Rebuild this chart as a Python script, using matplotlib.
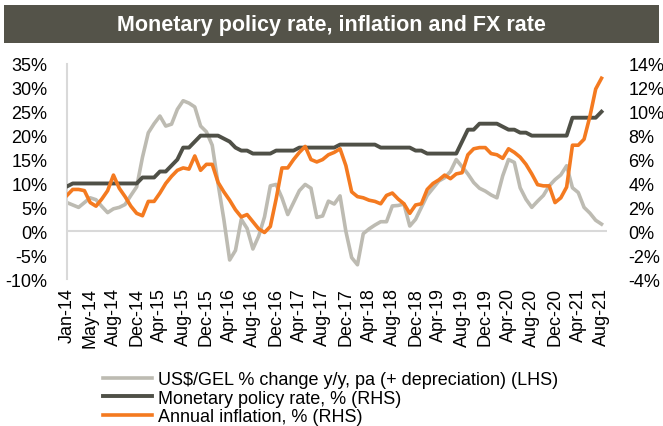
import numpy as np
import matplotlib
matplotlib.use("Agg")
import matplotlib.pyplot as plt
from matplotlib.ticker import FuncFormatter

plt.rcParams.update({
    "font.family": ["Liberation Sans", "DejaVu Sans"],
    "font.size": 13,
})

# monthly series, Jan-14 .. Aug-21
fx_change = [
    6.0, 5.5, 5.0, 6.0, 7.0, 6.6, 5.2, 3.9, 4.7, 5.0,
    5.6, 7.5, 9.3, 15.5, 20.6, 22.5, 24.1, 22.0, 22.4, 25.5,
    27.3, 26.8, 26.0, 22.0, 20.8, 18.0, 10.0, 2.5, -6.0, -4.0,
    2.5, 0.6, -3.7, -1.0, 3.0, 9.5, 9.8, 7.0, 3.5, 6.0,
    8.5, 9.8, 9.0, 2.9, 3.2, 6.3, 5.7, 7.4, 0.0, -5.5,
    -7.0, -0.5, 0.5, 1.3, 2.0, 2.0, 5.3, 5.4, 5.7, 1.1,
    2.5, 5.0, 7.5, 9.0, 10.5, 11.2, 12.5, 15.0, 13.5, 12.0,
    10.2, 9.0, 8.4, 7.6, 7.0, 11.6, 15.0, 14.4, 9.1, 6.7,
    5.0, 6.3, 7.5, 9.5, 10.8, 11.8, 13.7, 9.1, 8.1, 5.0,
    3.8, 2.3, 1.5,
]
policy_rate = [
    3.75, 4.0, 4.0, 4.0, 4.0, 4.0, 4.0, 4.0, 4.0, 4.0,
    4.0, 4.0, 4.0, 4.5, 4.5, 4.5, 5.0, 5.0, 5.5, 6.0,
    7.0, 7.0, 7.5, 8.0, 8.0, 8.0, 8.0, 7.75, 7.5, 7.0,
    6.75, 6.75, 6.5, 6.5, 6.5, 6.5, 6.75, 6.75, 6.75, 6.75,
    7.0, 7.0, 7.0, 7.0, 7.0, 7.0, 7.0, 7.25, 7.25, 7.25,
    7.25, 7.25, 7.25, 7.25, 7.0, 7.0, 7.0, 7.0, 7.0, 7.0,
    6.75, 6.75, 6.5, 6.5, 6.5, 6.5, 6.5, 6.5, 7.5, 8.5,
    8.5, 9.0, 9.0, 9.0, 9.0, 8.75, 8.5, 8.5, 8.25, 8.25,
    8.0, 8.0, 8.0, 8.0, 8.0, 8.0, 8.0, 9.5, 9.5, 9.5,
    9.5, 9.5, 10.0,
]
inflation = [
    3.0, 3.5, 3.5, 3.4, 2.4, 2.1, 2.7, 3.4, 4.7, 3.6,
    2.9, 2.1, 1.5, 1.3, 2.5, 2.5, 3.2, 4.0, 4.6, 5.1,
    5.3, 5.2, 6.3, 5.1, 5.6, 5.6, 4.1, 3.3, 2.6, 1.8,
    1.2, 1.4, 0.8, 0.2, -0.1, 0.4, 2.7, 5.3, 5.3, 6.0,
    6.6, 7.1, 6.0, 5.8, 6.0, 6.4, 6.6, 6.9, 5.5, 3.3,
    2.9, 2.8, 2.6, 2.5, 2.3, 3.0, 3.2, 2.7, 2.3, 1.5,
    2.2, 2.3, 3.5, 4.0, 4.3, 4.7, 4.4, 4.8, 4.9, 6.4,
    6.9, 7.0, 7.0, 6.5, 6.4, 6.1, 6.9, 6.6, 6.2, 5.6,
    4.8, 3.9, 3.8, 3.8, 2.4, 2.8, 3.7, 7.2, 7.2, 7.7,
    9.6, 11.9, 12.8,
]
tick_labels = [
    "Jan-14", "May-14", "Aug-14", "Dec-14", "Apr-15", "Aug-15", "Dec-15",
    "Apr-16", "Aug-16", "Dec-16", "Apr-17", "Aug-17", "Dec-17", "Apr-18",
    "Aug-18", "Dec-18", "Apr-19", "Aug-19", "Dec-19", "Apr-20", "Aug-20",
    "Dec-20", "Apr-21", "Aug-21",
]

GREY = "#bdbbb2"
DARK = "#4f5047"
ORANGE = "#f47a20"
AXIS = "#d9d9d9"

x = np.arange(len(fx_change))

fig = plt.figure(figsize=(6.63, 4.27), dpi=100)
ax = fig.add_axes([0.101, 0.344, 0.815, 0.504])
ax2 = ax.twinx()

l1, = ax.plot(x, fx_change, color=GREY, lw=2.6, solid_joinstyle="round",
              label="US$/GEL % change y/y, pa (+ depreciation) (LHS)")
l2, = ax2.plot(x, policy_rate, color=DARK, lw=2.8, solid_joinstyle="round",
               label="Monetary policy rate, % (RHS)")
l3, = ax2.plot(x, inflation, color=ORANGE, lw=2.6, solid_joinstyle="round",
               label="Annual inflation, % (RHS)")

ax.axhline(0, color=AXIS, lw=1.5, zorder=0)
ax.set_xlim(0, 93)
ax.set_ylim(-10, 35)
ax2.set_ylim(-4, 14)
ax.set_yticks(np.arange(-10, 36, 5))
ax2.set_yticks(np.arange(-4, 15, 2))
pct = FuncFormatter(lambda v, p: f"{v:.0f}%")
ax.yaxis.set_major_formatter(pct)
ax2.yaxis.set_major_formatter(pct)

ax.set_xticks(x[::4])
ax.set_xticklabels(tick_labels, rotation=90)

ax.tick_params(axis="x", length=0, pad=6)
ax.tick_params(axis="y", length=0, pad=14)
ax2.tick_params(axis="y", length=0, pad=15)

for s in ["top", "right", "bottom"]:
    ax.spines[s].set_visible(False)
ax.spines["left"].set_color(AXIS)
ax.spines["left"].set_linewidth(1.5)
for s in ax2.spines.values():
    s.set_visible(False)

# title bar
fig.patches.append(plt.Rectangle((4 / 663, 1 - 44 / 427), 655 / 663, 38 / 427,
                                 transform=fig.transFigure, facecolor="#545349",
                                 edgecolor="none"))
fig.text(0.5, 1 - 25 / 427, "Monetary policy rate, inflation and FX rate",
         ha="center", va="center", color="white", fontsize=15.5,
         fontweight="bold", family=["Liberation Sans Narrow", "Liberation Sans"])

fig.legend(handles=[l1, l2, l3], loc="upper left",
           bbox_to_anchor=(0.155, 0.128), frameon=False, fontsize=13,
           handlelength=2.7, handletextpad=0.35, labelspacing=0.08,
           borderpad=0, borderaxespad=0)

fig.savefig("out.png", dpi=100)
